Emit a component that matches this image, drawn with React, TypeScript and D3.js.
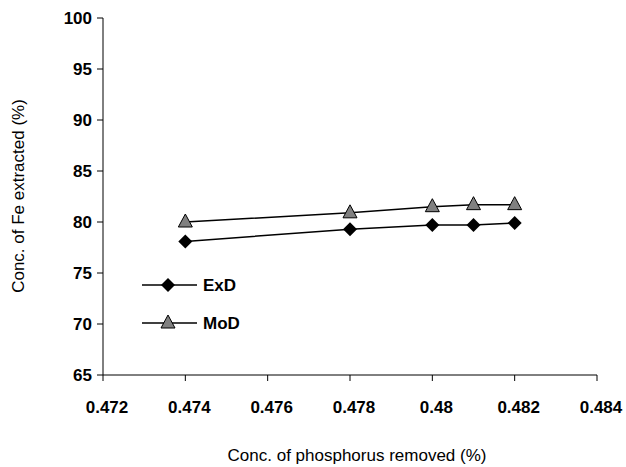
import React from "react";
import * as d3 from "d3";

const xVals = [0.474, 0.478, 0.48, 0.481, 0.482];
const exD = [78.1, 79.3, 79.7, 79.7, 79.9];
const moD = [80.0, 80.9, 81.5, 81.7, 81.7];
const xTicks = [0.472, 0.474, 0.476, 0.478, 0.48, 0.482, 0.484];
const yTicks = [65, 70, 75, 80, 85, 90, 95, 100];

const font = "'Liberation Sans', Arial, sans-serif";

export default function App() {
  const x = d3.scaleLinear().domain([0.472, 0.484]).range([103, 597]);
  const y = d3.scaleLinear().domain([65, 100]).range([375, 18]);
  const line = d3.line<number>().x((_, i) => x(xVals[i])).y(d => y(d));
  const diamond = (cx: number, cy: number) =>
    `M${cx},${cy - 7}L${cx + 7},${cy}L${cx},${cy + 7}L${cx - 7},${cy}Z`;
  const tri = (cx: number, cy: number) =>
    `M${cx},${cy - 8}L${cx + 7},${cy + 5}L${cx - 7},${cy + 5}Z`;
  return (
    <svg width={626} height={467} style={{ position: "absolute", left: 0, top: 0, background: "#fff" }} fontFamily={font}>
      <line x1={103} x2={103} y1={18} y2={375} stroke="#000" />
      <line x1={103} x2={597} y1={375} y2={375} stroke="#000" />
      {yTicks.map(t => (
        <g key={t}>
          <line x1={97} x2={103} y1={y(t)} y2={y(t)} stroke="#000" />
          <text x={92} y={y(t) + 6} textAnchor="end" fontSize={17} fontWeight="bold">{t}</text>
        </g>
      ))}
      {xTicks.map(t => (
        <g key={t}>
          <line x1={x(t)} x2={x(t)} y1={375} y2={381} stroke="#000" />
          <text x={x(t) + 4} y={413} textAnchor="middle" fontSize={17} fontWeight="bold">{String(+t.toFixed(3))}</text>
        </g>
      ))}
      <path d={line(moD) || ""} fill="none" stroke="#000" strokeWidth={1.5} />
      <path d={line(exD) || ""} fill="none" stroke="#000" strokeWidth={1.5} />
      {exD.map((v, i) => <path key={"e" + i} d={diamond(x(xVals[i]), y(v))} fill="#000" />)}
      {moD.map((v, i) => <path key={"m" + i} d={tri(x(xVals[i]), y(v))} fill="#808080" stroke="#000" strokeWidth={1} />)}
      <line x1={142} x2={197} y1={285} y2={285} stroke="#000" strokeWidth={1.5} />
      <path d={diamond(168, 285)} fill="#000" />
      <text x={203} y={291} fontSize={17} fontWeight="bold">ExD</text>
      <line x1={142} x2={197} y1={323} y2={323} stroke="#000" strokeWidth={1.5} />
      <path d={tri(168, 323)} fill="#808080" stroke="#000" />
      <text x={203} y={329} fontSize={17} fontWeight="bold">MoD</text>
      <text transform="translate(24,196) rotate(-90)" textAnchor="middle" fontSize={17}>Conc. of Fe extracted (%)</text>
      <text x={357} y={461} textAnchor="middle" fontSize={17}>Conc. of phosphorus removed (%)</text>
    </svg>
  );
}
